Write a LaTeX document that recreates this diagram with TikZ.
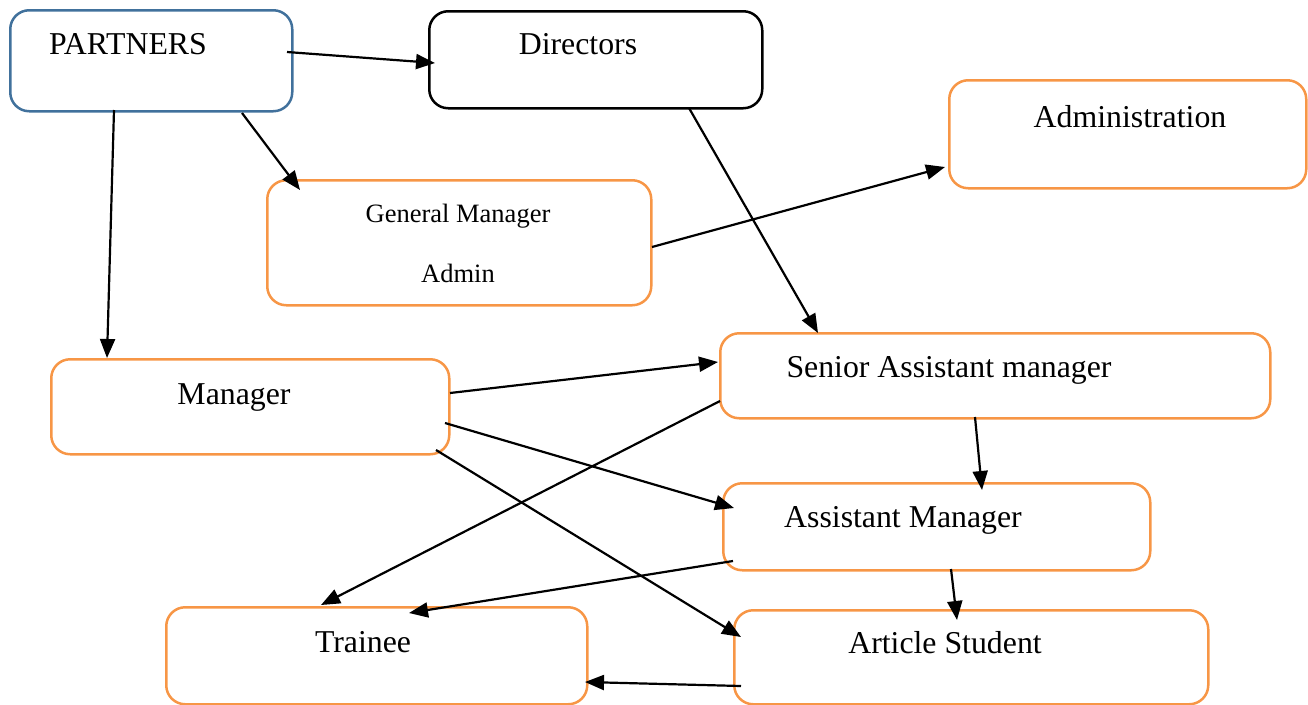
\documentclass[tikz,border=0pt]{standalone}
\usepackage{fontspec}
\setmainfont{Liberation Serif}
\usetikzlibrary{arrows.meta}
\definecolor{pblue}{RGB}{65,113,156}
\definecolor{orng}{RGB}{247,150,70}
\tikzset{
  box/.style={draw=orng, line width=2.5pt, rounded corners=19pt, anchor=north west, inner sep=0pt},
  lbl/.style={anchor=base, inner sep=0pt, font=\fontsize{31.8}{36}\selectfont},
  small/.style={anchor=base, inner sep=0pt, font=\fontsize{26.5}{30}\selectfont},
  arr/.style={line width=2.2pt, -{Triangle[length=19pt,width=15pt]}}
}
\begin{document}
\begin{tikzpicture}[x=1pt,y=-1pt]
\useasboundingbox (0,0) rectangle (1308,704);
% boxes
\node[box, draw=pblue, minimum width=282pt, minimum height=101pt] (p) at (9,9) {};
\node[box, draw=black, minimum width=333pt, minimum height=97pt] (d) at (428,10) {};
\node[box, minimum width=357pt, minimum height=108pt] (adm) at (948,79) {};
\node[box, minimum width=384pt, minimum height=125pt] (gm) at (266,179) {};
\node[box, minimum width=398pt, minimum height=95pt] (m) at (50,358) {};
\node[box, minimum width=550pt, minimum height=85pt] (sam) at (719,332) {};
\node[box, minimum width=427pt, minimum height=87pt] (am) at (722,482) {};
\node[box, minimum width=421pt, minimum height=97pt] (tr) at (165,606) {};
\node[box, minimum width=474pt, minimum height=94pt] (as) at (733,609) {};
% texts
\node[lbl] (tp) at (128,54) {PARTNERS};
\node[lbl] (td) at (578,54) {Directors};
\node[lbl] (tadm) at (1130,127) {Administration};
\node[small] (tgm1) at (458,222) {General Manager};
\node[small] (tgm2) at (458,282) {Admin};
\node[lbl] (tm) at (234,404) {Manager};
\node[lbl] (tsam) at (949,377) {Senior Assistant manager};
\node[lbl] (tam) at (903,527) {Assistant Manager};
\node[lbl] (ttr) at (363,652) {Trainee};
\node[lbl] (tas) at (945,653) {Article Student};
% arrows
\draw[arr] ([shift={(278,43)}]p.north west) -- ([shift={(7,53)}]d.north west);
\draw[arr] ([shift={(105,101)}]p.north west) -- ([shift={(57,0)}]m.north west);
\draw[arr] ([shift={(233,104)}]p.north west) -- ([shift={(34,11)}]gm.north west);
\draw[arr] ([shift={(386,68)}]gm.north west) -- ([shift={(-3,88)}]adm.north west);
\draw[arr] ([shift={(261,98)}]d.north west) -- ([shift={(99,1)}]sam.north west);
\draw[arr] ([shift={(400,35)}]m.north west) -- ([shift={(-1,30)}]sam.north west);
\draw[arr] ([shift={(395,65)}]m.north west) -- ([shift={(12,26)}]am.north west);
\draw[arr] ([shift={(386,92)}]m.north west) -- ([shift={(8,28)}]as.north west);
\draw[arr] ([shift={(1,69)}]sam.north west) -- ([shift={(156,-1)}]tr.north west);
\draw[arr] ([shift={(256,85)}]sam.north west) -- ([shift={(260,8)}]am.north west);
\draw[arr] ([shift={(11,79)}]am.north west) -- ([shift={(244,7)}]tr.north west);
\draw[arr] ([shift={(229,87)}]am.north west) -- ([shift={(224,11)}]as.north west);
\draw[arr] ([shift={(8,77)}]as.north west) -- ([shift={(420,76)}]tr.north west);
\end{tikzpicture}
\end{document}
